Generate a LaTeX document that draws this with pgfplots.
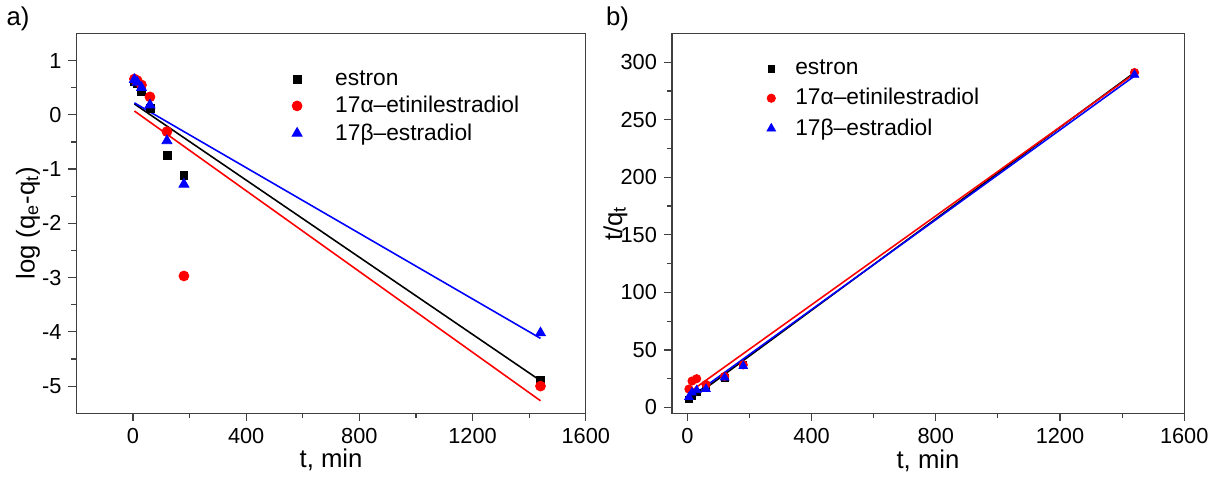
\documentclass[border=0pt]{standalone}
\usepackage{pgfplots}
\pgfplotsset{compat=1.18}
\usepackage{fontspec}
\setmainfont{Liberation Sans}

% pseudo-first order (a) data
\pgfplotstableread{
t    es     et     eb
5    0.62   0.66   0.65
15   0.58   0.63   0.60
30   0.43   0.55   0.50
60   0.12   0.33   0.18
120  -0.75  -0.31  -0.48
180  -1.12  -2.97  -1.28
1440 -4.90  -5.00  -4.02
}\pfo
% pseudo-second order (b) data
\pgfplotstableread{
t    es     et     eb
5    7      16     9
15   10     23     13
30   13     25     15
60   17     20     16
120  26     27     26
180  37     37     36
1440 291    291    289
}\pso

\pgfplotsset{
  kin/.style={
    scale only axis,
    axis line style={black!75, line width=0.7pt},
    tick style={black!75, line width=0.6pt},
    tick align=outside,
    xtick pos=bottom, ytick pos=left,
    minor x tick num=1, minor y tick num=1,
    major tick length=4pt, minor tick length=2.5pt,
    /pgf/number format/assume math mode=true,
    /pgf/number format/set thousands separator={},
    ticklabel style={font=\fontsize{11}{13}\selectfont},
    label style={font=\fontsize{13}{15}\selectfont},
    legend style={draw=none, fill=none, font=\fontsize{11.5}{14}\selectfont,
      row sep=0pt, anchor=north west},
    legend cell align=left,
    clip mode=individual,
  },
  sq/.style={black, only marks, mark=square*, mark size=2pt},
  ci/.style={red, only marks, mark=*, mark size=2.5pt},
  tr/.style={blue, only marks, mark=triangle*, mark size=2.9pt},
  fit/.style={line width=0.8pt, forget plot},
}

\begin{document}
\begin{tikzpicture}
\begin{axis}[kin,
  at={(0,0)},
  width=257.5pt, height=192pt,
  xmin=-200, xmax=1600, ymin=-5.5, ymax=1.5,
  xtick={0,400,800,1200,1600}, ytick={-5,-4,...,1},
  xlabel={t, min}, ylabel={log (q\textsubscript{e}-q\textsubscript{t})},
  xlabel style={at={(axis description cs:0.5,-0.122)}, anchor=center},
  ylabel style={at={(axis description cs:-0.095,0.5)}, anchor=center},
  legend style={at={(rel axis cs:0.398,0.924)}},
  legend image code/.code={\path (0cm,0cm) (0.8cm,0cm); \draw[#1] plot coordinates {(0.2cm,0cm)};},
]
\addplot[fit, black] coordinates {(5,0.20) (1440,-4.90)};
\addplot[fit, red]   coordinates {(5,0.07) (1440,-5.27)};
\addplot[fit, blue]  coordinates {(5,0.22) (1440,-4.12)};
\addplot[sq] table[x=t, y=es] {\pfo};
\addplot[ci] table[x=t, y=et] {\pfo};
\addplot[tr] table[x=t, y=eb] {\pfo};
\legend{estron, 17α–etinilestradiol, 17β–estradiol}
\node[font=\fontsize{13}{15}\selectfont] at ([xshift=-29.5pt, yshift=7.5pt]rel axis cs:0,1) {a)};
\end{axis}

\begin{axis}[kin,
  at={(301pt,0)},
  width=259pt, height=192pt,
  xmin=-50, xmax=1600, ymin=-5, ymax=325,
  xtick={0,400,800,1200,1600}, ytick={0,50,...,300},
  xlabel={t, min}, ylabel={t/q\textsubscript{t}},
  xlabel style={at={(axis description cs:0.5,-0.125)}, anchor=center},
  ylabel style={at={(axis description cs:-0.11,0.5)}, anchor=center},
  legend style={at={(rel axis cs:0.159,0.952)}, row sep=1.5pt},
  legend image code/.code={\path (0cm,0cm) (0.55cm,0cm); \draw[#1] plot coordinates {(0.2cm,0cm)};},
]
\addplot[fit, black] coordinates {(5,6) (1440,291)};
\addplot[fit, red]   coordinates {(5,13) (1440,290)};
\addplot[fit, blue]  coordinates {(5,8) (1440,288)};
\addplot[sq, mark size=1.7pt] table[x=t, y=es] {\pso};
\addplot[ci, mark size=2.1pt] table[x=t, y=et] {\pso};
\addplot[tr, mark size=2.5pt] table[x=t, y=eb] {\pso};
\legend{estron, 17α–etinilestradiol, 17β–estradiol}
\node[font=\fontsize{13}{15}\selectfont] at ([xshift=-27.5pt, yshift=7.5pt]rel axis cs:0,1) {b)};
\end{axis}
\end{tikzpicture}
\end{document}
